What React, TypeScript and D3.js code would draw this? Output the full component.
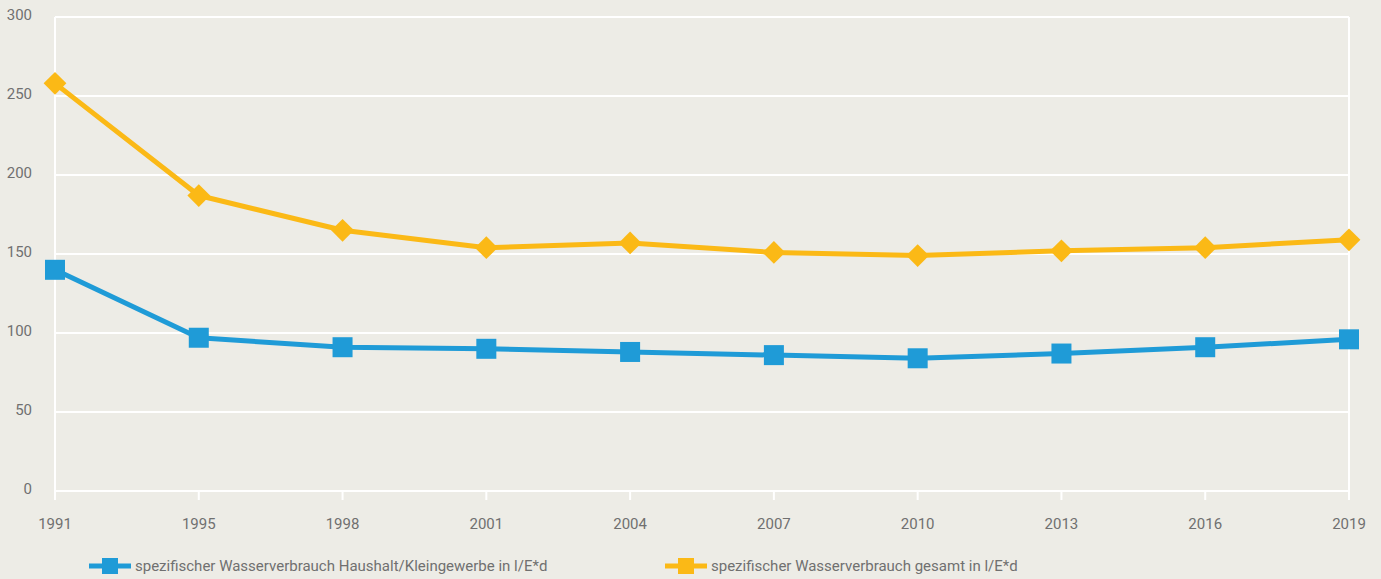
import React, { useEffect, useRef } from "react";
import * as d3 from "d3";

const years = ["1991", "1995", "1998", "2001", "2004", "2007", "2010", "2013", "2016", "2019"];
const haushalt = [140, 97, 91, 90, 88, 86, 84, 87, 91, 96];
const gesamt = [258, 187, 165, 154, 157, 151, 149, 152, 154, 159];
const yTicks = [0, 50, 100, 150, 200, 250, 300];
const legendLabels = [
  "spezifischer Wasserverbrauch Haushalt/Kleingewerbe in l/E*d",
  "spezifischer Wasserverbrauch gesamt in l/E*d",
];

const W = 1381, H = 579;
const BG = "#EDECE6";
const BLUE = "#1F9BD7";
const ORANGE = "#FBB916";
const TEXT = "#707070";
const FONT = "Roboto, 'Open Sans', sans-serif";

export default function App() {
  const ref = useRef<SVGSVGElement>(null);
  useEffect(() => {
    document.body.style.margin = "0";
    const svg = d3.select(ref.current);
    svg.selectAll("*").remove();
    const left = 55, right = 1349, top = 17, bottom = 491;
    const x = d3.scalePoint<string>().domain(years).range([left, right]);
    const y = d3.scaleLinear().domain([0, 300]).range([bottom, top]);

    svg.append("rect").attr("width", W).attr("height", H).attr("fill", BG);

    // gridlines
    svg.append("g").selectAll("line").data(yTicks).join("line")
      .attr("x1", left).attr("x2", right)
      .attr("y1", (d) => y(d)).attr("y2", (d) => y(d))
      .attr("stroke", "#fff").attr("stroke-width", 2);
    // vertical borders
    [left, right].forEach((xx) => {
      svg.append("line").attr("x1", xx).attr("x2", xx).attr("y1", top).attr("y2", bottom + 9)
        .attr("stroke", "#fff").attr("stroke-width", 2);
    });
    // ticks
    svg.append("g").selectAll("line").data(years).join("line")
      .attr("x1", (d) => x(d)!).attr("x2", (d) => x(d)!)
      .attr("y1", bottom).attr("y2", bottom + 9)
      .attr("stroke", "#fff").attr("stroke-width", 2);

    // y labels
    svg.append("g").selectAll("text").data(yTicks).join("text")
      .attr("x", 32).attr("y", (d) => y(d) + 3)
      .attr("text-anchor", "end")
      .attr("font-family", FONT).attr("font-size", 15).attr("fill", TEXT)
      .text((d) => d);
    // x labels
    svg.append("g").selectAll("text").data(years).join("text")
      .attr("x", (d) => x(d)!).attr("y", 529)
      .attr("text-anchor", "middle")
      .attr("font-family", FONT).attr("font-size", 15).attr("fill", TEXT)
      .text((d) => d);

    const line = d3.line<number>().x((_, i) => x(years[i])!).y((d) => y(d));

    // orange series
    svg.append("path").attr("d", line(gesamt)).attr("fill", "none")
      .attr("stroke", ORANGE).attr("stroke-width", 5).attr("stroke-linejoin", "round");
    const sym = d3.symbol().type(d3.symbolSquare).size(260);
    svg.append("g").selectAll("path").data(gesamt).join("path")
      .attr("d", sym())
      .attr("transform", (d, i) => `translate(${x(years[i])},${y(d)}) rotate(45)`)
      .attr("fill", ORANGE);

    // blue series
    svg.append("path").attr("d", line(haushalt)).attr("fill", "none")
      .attr("stroke", BLUE).attr("stroke-width", 5).attr("stroke-linejoin", "round");
    svg.append("g").selectAll("rect").data(haushalt).join("rect")
      .attr("x", (d, i) => x(years[i])! - 10).attr("y", (d) => y(d) - 10)
      .attr("width", 20).attr("height", 20).attr("fill", BLUE);

    // legend
    const leg = [
      { x0: 89, color: BLUE, label: legendLabels[0] },
      { x0: 665, color: ORANGE, label: legendLabels[1] },
    ];
    const ly = 566;
    leg.forEach((l) => {
      svg.append("line").attr("x1", l.x0).attr("x2", l.x0 + 42).attr("y1", ly).attr("y2", ly)
        .attr("stroke", l.color).attr("stroke-width", 5);
      svg.append("rect").attr("x", l.x0 + 13).attr("y", ly - 8).attr("width", 16).attr("height", 16)
        .attr("fill", l.color);
      svg.append("text").attr("x", l.x0 + 46).attr("y", ly + 5)
        .attr("font-family", FONT).attr("font-size", 15).attr("fill", TEXT)
        .text(l.label);
    });
  }, []);
  return <svg ref={ref} width={W} height={H} style={{ display: "block" }} />;
}
